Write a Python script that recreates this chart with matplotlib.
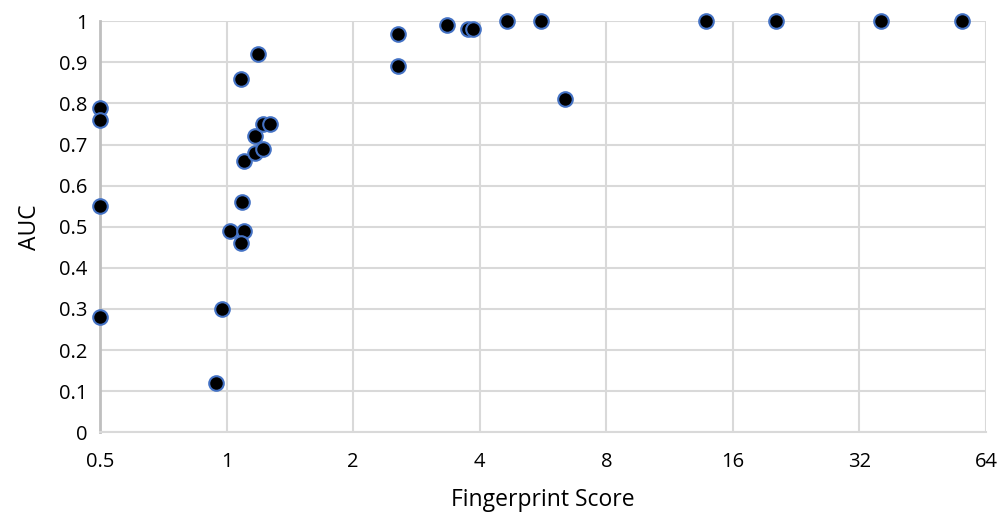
import numpy as np
import matplotlib.pyplot as plt
from matplotlib.ticker import FixedLocator, FixedFormatter, NullLocator

##Data
score = [0.5, 0.5, 0.5, 0.5,
         0.944, 0.973, 1.02, 1.10, 1.085, 1.09, 1.10, 1.085, 1.19,
         1.17, 1.17, 1.22, 1.27, 1.22,
         2.56, 2.56, 3.35, 3.76, 3.85, 4.64, 5.59, 6.38,
         13.8, 20.3, 36.1, 56.0]
auc = [0.79, 0.76, 0.55, 0.28,
       0.12, 0.30, 0.49, 0.49, 0.46, 0.56, 0.66, 0.86, 0.92,
       0.68, 0.72, 0.75, 0.75, 0.69,
       0.97, 0.89, 0.99, 0.98, 0.98, 1.0, 1.0, 0.81,
       1.0, 1.0, 1.0, 1.0]
xticks = [0.5, 1, 2, 4, 8, 16, 32, 64]
xticklabels = ['0.5', '1', '2', '4', '8', '16', '32', '64']
yticks = [round(0.1 * i, 1) for i in range(11)]
yticklabels = ['0'] + ['0.%d' % i for i in range(1, 10)] + ['1']

plt.rcParams['font.family'] = ['Open Sans', 'DejaVu Sans']

fig = plt.figure(figsize=(10.0, 5.17), dpi=100)
ax = fig.add_axes([0.100, 0.164, 0.886, 0.795])

ax.scatter(score, auc, s=110, c='black', edgecolors='#4472C4', linewidths=1.5,
           zorder=3, clip_on=False)

ax.set_xscale('log', base=2)
ax.set_xlim(0.5, 64)
ax.set_ylim(0, 1)
ax.xaxis.set_major_locator(FixedLocator(xticks))
ax.xaxis.set_major_formatter(FixedFormatter(xticklabels))
ax.xaxis.set_minor_locator(NullLocator())
ax.set_yticks(yticks)
ax.set_yticklabels(yticklabels)

ax.grid(True, color='#d9d9d9', linewidth=1.5, zorder=0)
ax.set_axisbelow(True)
for side in ['top', 'right']:
    ax.spines[side].set_visible(False)
ax.spines['left'].set_color('#bfbfbf')
ax.spines['left'].set_linewidth(2)
ax.spines['bottom'].set_color('#d9d9d9')
ax.spines['bottom'].set_linewidth(1.5)
ax.tick_params(length=0, labelsize=14.5, colors='black')
ax.tick_params(axis='x', pad=14)
ax.tick_params(axis='y', pad=9)

ax.set_xlabel('Fingerprint Score', fontsize=16.5, labelpad=12)
ax.set_ylabel('AUC', fontsize=16.5, labelpad=12)

fig.savefig('out.png', dpi=100)
